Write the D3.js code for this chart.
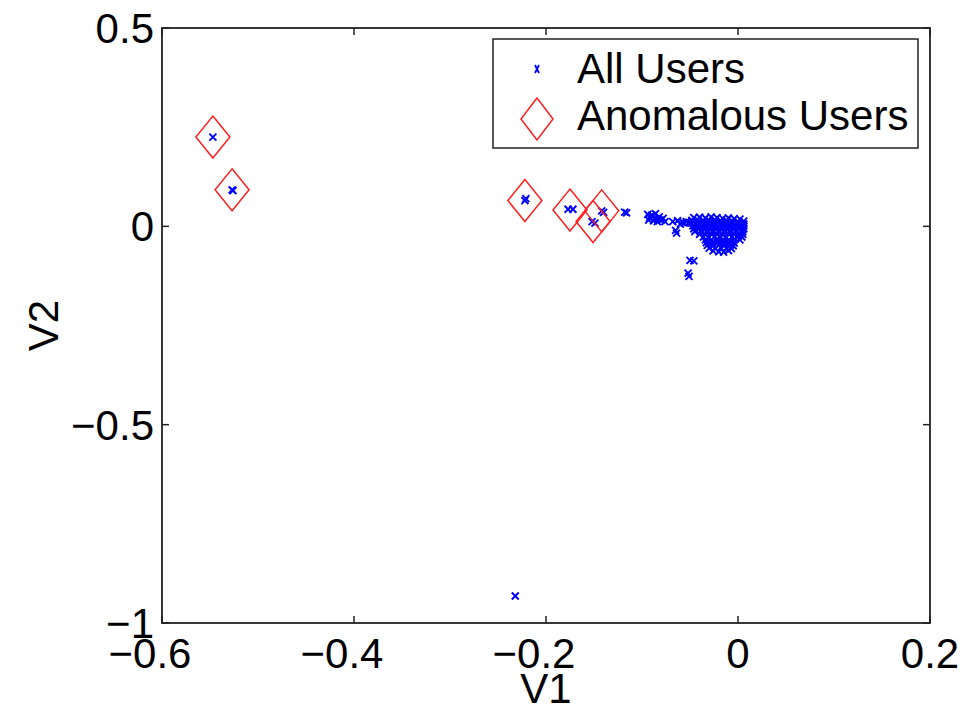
<!DOCTYPE html>
<html><head><meta charset="utf-8">
<script src="https://cdn.jsdelivr.net/npm/d3@7"></script>
<style>body{margin:0;background:#fff}svg{display:block}text{font-family:"Liberation Sans",Arial,Helvetica,sans-serif}</style>
</head><body><svg id="c" width="966" height="711"></svg>
<script>
// All users (V1, V2)
const allV1 = [
 -0.547,-0.527,-0.526,-0.222,-0.221,-0.177,-0.172,-0.152,-0.149,-0.142,-0.140,-0.232,
 -0.116,-0.118,
 -0.094,-0.090,-0.086,-0.092,-0.087,-0.082,-0.080,-0.076,-0.084,-0.089,-0.078,-0.083,-0.093,-0.088,
 -0.068,-0.063,-0.058,-0.054,-0.060,-0.064,-0.065,-0.056,-0.051,
 -0.050,-0.046,-0.052,-0.051,
 -0.046,-0.040,-0.034,-0.028,-0.022,-0.016,-0.010,-0.004,0.002,
 -0.048,-0.042,-0.036,-0.030,-0.024,-0.018,-0.012,-0.006,0.000,0.006,
 -0.048,-0.042,-0.036,-0.030,-0.024,-0.018,-0.012,-0.006,0.000,0.006,
 -0.047,-0.041,-0.035,-0.029,-0.023,-0.017,-0.011,-0.005,0.001,0.006,
 -0.046,-0.040,-0.034,-0.028,-0.022,-0.016,-0.010,-0.004,0.002,0.006,
 -0.045,-0.039,-0.033,-0.027,-0.021,-0.015,-0.009,-0.003,0.003,0.005,
 -0.040,-0.034,-0.028,-0.022,-0.016,-0.010,-0.004,0.001,0.005,
 -0.036,-0.030,-0.024,-0.018,-0.012,-0.006,0.000,0.004,
 -0.034,-0.028,-0.022,-0.016,-0.010,-0.004,0.002,
 -0.033,-0.027,-0.021,-0.015,-0.009,-0.004,
 -0.032,-0.026,-0.020,-0.014,-0.008,-0.005,
 -0.030,-0.024,-0.018,-0.012,-0.007,
 -0.026,-0.020,-0.015,-0.010
];
const allV2 = [
 0.225,0.092,0.090,0.065,0.070,0.043,0.043,0.012,0.008,0.039,0.035,-0.932,
 0.034,0.036,
 0.030,0.028,0.032,0.022,0.020,0.024,0.016,0.012,0.012,0.026,0.020,0.018,0.016,0.014,
 0.012,0.014,0.010,0.012,0.006,-0.017,-0.010,0.008,0.010,
 -0.086,-0.087,-0.118,-0.126,
 0.022,0.023,0.021,0.024,0.022,0.020,0.021,0.019,0.018,
 0.015,0.016,0.014,0.015,0.016,0.014,0.015,0.013,0.012,0.013,
 0.008,0.009,0.007,0.008,0.009,0.007,0.008,0.008,0.007,0.006,
 0.001,0.002,0.000,0.001,0.002,0.000,0.001,0.001,0.000,0.001,
 -0.006,-0.005,-0.007,-0.006,-0.005,-0.007,-0.006,-0.006,-0.005,-0.006,
 -0.013,-0.012,-0.014,-0.013,-0.012,-0.014,-0.013,-0.012,-0.011,-0.013,
 -0.020,-0.021,-0.019,-0.020,-0.021,-0.019,-0.020,-0.018,-0.020,
 -0.027,-0.028,-0.026,-0.027,-0.028,-0.026,-0.025,-0.027,
 -0.034,-0.035,-0.033,-0.034,-0.035,-0.033,-0.034,
 -0.041,-0.042,-0.040,-0.041,-0.040,-0.042,
 -0.048,-0.049,-0.047,-0.048,-0.047,-0.049,
 -0.055,-0.056,-0.054,-0.055,-0.056,
 -0.062,-0.064,-0.065,-0.061
];
// Anomalous users
const anomV1 = [-0.547,-0.527,-0.222,-0.175,-0.151,-0.142];
const anomV2 = [0.225,0.092,0.065,0.041,0.012,0.039];
const xTicks = [-0.6,-0.4,-0.2,0,0.2];
const yTicks = [0.5,0,-0.5,-1];
const legendLabels = ["All Users","Anomalous Users"];

const svg = d3.select("#c");
svg.append("rect").attr("width",966).attr("height",711).attr("fill","#fff");
const L=162,R=930,T=28,B=623;
const x = d3.scaleLinear().domain([-0.6,0.2]).range([L,R]);
const y = d3.scaleLinear().domain([-1,0.5]).range([B,T]);
const FS = 42;
const axCol = "#222";
const fmt = t => t===0?"0":(Number.isInteger(t)?String(t):d3.format(".1f")(t)).replace("-","\u2212");

// points
const pts = svg.append("g");
const s = 3.5;
allV1.forEach((v,i)=>{
  const cx=x(v), cy=y(allV2[i]);
  pts.append("path").attr("d",`M${cx-s},${cy-s}L${cx+s},${cy+s}M${cx-s},${cy+s}L${cx+s},${cy-s}`)
    .attr("stroke","#0000ff").attr("stroke-width",1.9).attr("fill","none");
});
const dw=17, dh=21;
const diamond=(cx,cy,w,h)=>`M${cx},${cy-h}L${cx+w},${cy}L${cx},${cy+h}L${cx-w},${cy}Z`;
anomV1.forEach((v,i)=>{
  svg.append("path").attr("d",diamond(x(v),y(anomV2[i]),dw,dh))
   .attr("stroke","#ff2020").attr("stroke-width",1.5).attr("fill","none");
});

// box & ticks
svg.append("rect").attr("x",L).attr("y",T).attr("width",R-L).attr("height",B-T)
  .attr("fill","none").attr("stroke",axCol).attr("stroke-width",1.8);
const tl=7;
xTicks.forEach(t=>{
  const px=x(t);
  svg.append("line").attr("x1",px).attr("x2",px).attr("y1",B).attr("y2",B-tl).attr("stroke",axCol).attr("stroke-width",1.5);
  svg.append("line").attr("x1",px).attr("x2",px).attr("y1",T).attr("y2",T+tl).attr("stroke",axCol).attr("stroke-width",1.5);
  svg.append("text").attr("x",px-(t<0?12:0)).attr("y",668).attr("text-anchor","middle").attr("font-size",FS)
    .text(fmt(t));
});
yTicks.forEach(t=>{
  const py=y(t);
  svg.append("line").attr("x1",L).attr("x2",L+tl).attr("y1",py).attr("y2",py).attr("stroke",axCol).attr("stroke-width",1.5);
  svg.append("line").attr("x1",R).attr("x2",R-tl).attr("y1",py).attr("y2",py).attr("stroke",axCol).attr("stroke-width",1.5);
  svg.append("text").attr("x",154).attr("y",py+15).attr("text-anchor","end").attr("font-size",FS)
    .text(fmt(t));
});
svg.append("text").attr("x",(L+R)/2).attr("y",703).attr("text-anchor","middle").attr("font-size",FS).text("V1");
svg.append("text").attr("transform",`translate(58,${(T+B)/2}) rotate(-90)`).attr("text-anchor","middle").attr("font-size",FS).text("V2");

// legend
const lg=svg.append("g");
lg.append("rect").attr("x",493).attr("y",39).attr("width",425).attr("height",109)
  .attr("fill","#fff").attr("stroke",axCol).attr("stroke-width",1.5);
lg.append("path").attr("d",`M535,65L539,73M535,73L539,65`).attr("stroke","#0000ff").attr("stroke-width",1.8);
lg.append("path").attr("d",diamond(537,119,16,21)).attr("stroke","#ff2020").attr("stroke-width",1.5).attr("fill","none");
lg.append("text").attr("x",577).attr("y",83).attr("font-size",FS).text(legendLabels[0]);
lg.append("text").attr("x",577).attr("y",130).attr("font-size",FS).text(legendLabels[1]);
</script></body></html>
